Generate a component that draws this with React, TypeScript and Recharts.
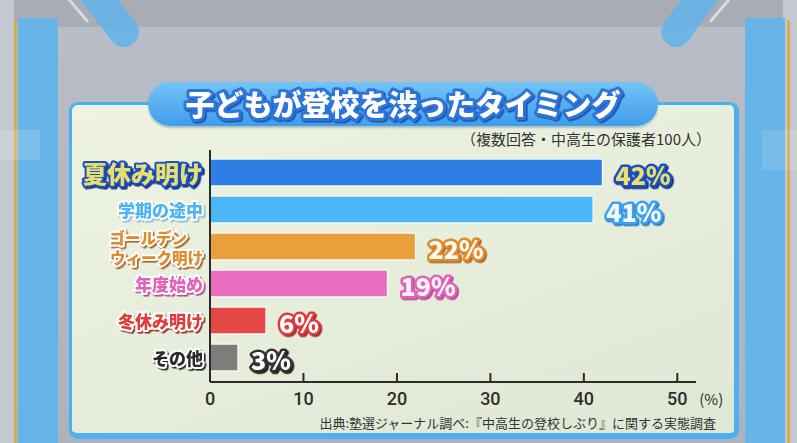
import React from "react";
import { BarChart, Bar, XAxis, YAxis, Cell, LabelList } from "recharts";

const categories = ["夏休み明け", "学期の途中", "ゴールデンウィーク明け", "年度始め", "冬休み明け", "その他"];
const categoryLines = [["夏休み明け"], ["学期の途中"], ["ゴールデン", "ウィーク明け"], ["年度始め"], ["冬休み明け"], ["その他"]];
const values = [42, 41, 22, 19, 6, 3];
const valueLabels = ["42%", "41%", "22%", "19%", "6%", "3%"];
const xTicks = [0, 10, 20, 30, 40, 50];

const BAR_COLORS = ["#2f7ee6", "#4bb7f6", "#e9a03c", "#e96ec0", "#e64846", "#7b7e7a"];
// fill / outline / shadow for the category text and the value labels
const CAT_STYLE = [
  { fill: "#e6e070", stroke: "#1e4fc0", shadow: "#13327e", size: 24 },
  { fill: "#4fb4f2", stroke: "#ffffff", shadow: "#8fbedf", size: 17 },
  { fill: "#e08a2a", stroke: "#ffffff", shadow: "#a8642a", size: 15.5 },
  { fill: "#e262b8", stroke: "#ffffff", shadow: "#b04a90", size: 17 },
  { fill: "#e03a3a", stroke: "#ffffff", shadow: "#9a2a2a", size: 17 },
  { fill: "#2a2a2a", stroke: "#ffffff", shadow: "#222222", size: 17 },
];
const VAL_STYLE = [
  { fill: "#e6e070", stroke: "#1e4fc0", shadow: "#13327e" },
  { fill: "#f2faff", stroke: "#3ea2ee", shadow: "#2a78c0" },
  { fill: "#fffaf2", stroke: "#e08a2a", shadow: "#a8642a" },
  { fill: "#fff2fa", stroke: "#e262b8", shadow: "#b04a90" },
  { fill: "#ffffff", stroke: "#e03a3a", shadow: "#9a2a2a" },
  { fill: "#ffffff", stroke: "#333333", shadow: "#1a1a1a" },
];

const data = categories.map((name, i) => ({ name, value: values[i] }));
const JP = "'Noto Sans CJK JP', 'Noto Sans', sans-serif";

function Outlined({ x, y, text, size, fill, stroke, shadow, sw = 4, anchor = "end" }: any) {
  const id = "sh" + shadow.replace("#", "");
  return (
    <g>
      <defs>
        <filter id={id} x="-10%" y="-30%" width="130%" height="170%">
          <feDropShadow dx={1.6} dy={1.6} stdDeviation={0.3} floodColor={shadow} floodOpacity={1} />
        </filter>
      </defs>
      <text
        x={x}
        y={y}
        fontFamily={JP}
        fontWeight={900}
        fontSize={size}
        textAnchor={anchor}
        dominantBaseline="central"
        strokeLinejoin="round"
        fill={fill}
        stroke={stroke}
        strokeWidth={sw}
        paintOrder="stroke"
        filter={`url(#${id})`}
      >
        {text}
      </text>
    </g>
  );
}

function CategoryTick({ x, y, payload }: any) {
  const i = payload.index;
  const s = CAT_STYLE[i];
  const lines = categoryLines[i];
  if (lines.length === 2) {
    return (
      <g>
        <Outlined x={x - 16} y={y - 10} text={lines[0]} {...s} />
        <Outlined x={x} y={y + 10} text={lines[1]} {...s} />
      </g>
    );
  }
  return <Outlined x={x} y={y} text={lines[0]} {...s} />;
}

function ValueTick({ x, y, payload }: any) {
  return (
    <g>
      {payload.value !== 0 && <line x1={x} x2={x} y1={y - 9} y2={y} stroke="#2b2b2b" strokeWidth={2} />}
      <text x={x} y={y + 23} textAnchor="middle" fontFamily="Roboto, sans-serif" fontWeight={500} fontSize={18} fill="#2e2e2e">
        {payload.value}
      </text>
      {payload.value === 50 && (
        <text x={x + 22} y={y + 23} fontFamily={JP} fontSize={15} fill="#2e2e2e">
          (%)
        </text>
      )}
    </g>
  );
}

function ValueLabel({ x, y, width, height, index }: any) {
  const s = VAL_STYLE[index];
  return <Outlined x={x + width + 13} y={y + height / 2 + 1} text={valueLabels[index]} size={25} anchor="start" sw={5} {...s} />;
}

function Backdrop() {
  return (
    <svg width={797} height={443} style={{ position: "absolute", left: 0, top: 0 }}>
      <defs>
        <linearGradient id="bg" x1="0" y1="0" x2="0" y2="1">
          <stop offset="0" stopColor="#b9bdc7" />
          <stop offset="1" stopColor="#aeb2bc" />
        </linearGradient>
      </defs>
      <rect width={797} height={443} fill="url(#bg)" />
      <rect width={797} height={27} fill="#a8acb5" />
      <rect x={0} y={0} width={14} height={443} fill="#c4c8d0" />
      <rect x={14} y={20} width={3} height={423} fill="#d2b04c" />
      <rect x={18} y={18} width={40} height={425} fill="#66b4e8" />
      <rect x={0} y={130} width={40} height={30} fill="#ffffff" opacity={0.15} />
      <line x1={84} y1={-20} x2={124} y2={32} stroke="#66b4e8" strokeWidth={30} strokeLinecap="round" opacity={0.9} />
      <line x1={66} y1={-4} x2={88} y2={22} stroke="#d6dae2" strokeWidth={3} />
      <rect x={783} y={0} width={14} height={443} fill="#c4c8d0" />
      <rect x={787} y={20} width={3} height={423} fill="#d2b04c" />
      <rect x={745} y={18} width={40} height={425} fill="#66b4e8" />
      <rect x={762} y={130} width={35} height={40} fill="#ffffff" opacity={0.12} />
      <line x1={714} y1={-20} x2={676} y2={32} stroke="#66b4e8" strokeWidth={30} strokeLinecap="round" opacity={0.9} />
      <line x1={732} y1={-4} x2={710} y2={22} stroke="#d6dae2" strokeWidth={3} />
    </svg>
  );
}

export default function App() {
  return (
    <div style={{ position: "absolute", left: 0, top: 0, width: 797, height: 443, overflow: "hidden" }}>
      <Backdrop />
      <div
        style={{
          position: "absolute",
          left: 69,
          top: 102,
          width: 662,
          height: 328,
          borderRadius: 9,
          border: "3px solid #4db0f0",
          borderRightWidth: 5,
          borderBottomWidth: 6,
          background: "linear-gradient(160deg, #eef3e2, #dfe8d4)",
        }}
      />
      <div
        style={{
          position: "absolute",
          left: 148,
          top: 82,
          width: 510,
          height: 44,
          borderRadius: 22,
          background: "linear-gradient(#74c4f6, #3f9de9)",
          boxShadow: "0 2px 2px rgba(40,80,140,0.3)",
        }}
      />
      <div style={{ position: "absolute", left: 0, top: 0 }}>
        <BarChart
          width={797}
          height={443}
          data={data}
          layout="vertical"
          margin={{ top: 150, right: 101, bottom: 31, left: 70 }}
          barSize={27}
        >
          <XAxis
            type="number"
            dataKey="value"
            domain={[0, 52]}
            ticks={xTicks}
            height={30}
            axisLine={{ stroke: "#2b2b2b", strokeWidth: 2 }}
            tickLine={false}
            tickSize={0}
            tickMargin={0}
            tick={<ValueTick />}
            interval={0}
          />
          <YAxis
            type="category"
            dataKey="name"
            width={140}
            padding={{ top: 4, bottom: 6 }}
            axisLine={{ stroke: "#2b2b2b", strokeWidth: 2 }}
            tickLine={false}
            tickSize={0}
            tickMargin={7}
            tick={<CategoryTick />}
            interval={0}
          />
          <Bar dataKey="value" isAnimationActive={false} stroke="#f4f8ee" strokeWidth={1.5}>
            {data.map((_, i) => (
              <Cell key={i} fill={BAR_COLORS[i]} />
            ))}
            <LabelList dataKey="value" content={<ValueLabel />} />
          </Bar>
        </BarChart>
      </div>
      <svg width={797} height={443} style={{ position: "absolute", left: 0, top: 0, pointerEvents: "none" }}>
        <Outlined x={403} y={103} text="子どもが登校を渋ったタイミング" size={29} anchor="middle" sw={6} fill="#ffffff" stroke="#2f74da" shadow="#1d56b0" />
        <text x={711} y={138} textAnchor="end" dominantBaseline="central" fontFamily={JP} fontSize={15} fill="#333">
          （複数回答・中高生の保護者100人）
        </text>
        <text x={716} y={422} textAnchor="end" dominantBaseline="central" fontFamily={JP} fontSize={13} fill="#333">
          出典:塾選ジャーナル調べ:『中高生の登校しぶり』に関する実態調査
        </text>
      </svg>
    </div>
  );
}
